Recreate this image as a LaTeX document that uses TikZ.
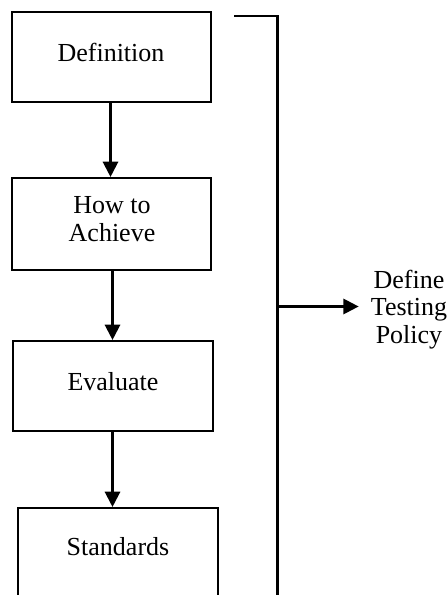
\documentclass[tikz,border=0pt]{standalone}
\usepackage{fontspec}
\setmainfont{Liberation Serif}
\usetikzlibrary{arrows.meta}
\begin{document}
\begin{tikzpicture}[x=0.75pt,y=-0.75pt,
  box/.style={draw, line width=1.6pt, inner sep=0pt, rectangle},
  lbl/.style={font=\fontsize{19.5}{21}\selectfont, inner sep=0pt, align=center},
  arr/.style={line width=1.7pt, -{Triangle[width=11.5pt,length=11.5pt]}},
  ln/.style={line width=2pt}]
\useasboundingbox (0,0) rectangle (446,595);
\clip (0,0) rectangle (446,595);
% boxes
\node[box, minimum width=149.25pt, minimum height=67.5pt] (b1) at (111.5,57) {};
\node[box, minimum width=149.25pt, minimum height=69pt] (b2) at (111.5,224) {};
\node[box, minimum width=150pt, minimum height=67.5pt] (b3) at (113,386) {};
\node[box, minimum width=150pt, minimum height=69pt] (b4) at (118,554) {};
% texts
\node[lbl, anchor=base] (t1) at (111,62) {Definition};
\node[lbl] (t2) at (112,219.4) {How to\\Achieve};
\node[lbl, anchor=base] (t3) at (113,390) {Evaluate};
\node[lbl, anchor=base] (t4) at (118,555) {Standards};
\node[lbl, font=\fontsize{19.5}{20.6}\selectfont] (t5) at (409,309.5) {Define\\Testing\\Policy};
% arrows
\draw[arr] (b1.south -| 110.5,0) -- (b2.north -| 110.5,0);
\draw[arr] (b2.south -| 112.5,0) -- (b3.north -| 112.5,0);
\draw[arr] (b3.south -| 112.5,0) -- (b4.north -| 112.5,0);
% bracket
\coordinate (bt) at (234,16);
\coordinate (bc) at (277.5,16);
\coordinate (bb) at (277.5,600);
\coordinate (bm) at (277.5,306.5);
\draw[ln, line join=miter] (bt) -- (bc) -- (bb);
\draw[arr] (bm) -- ([xshift=-9pt]t5.west |- bm);
\end{tikzpicture}
\end{document}
